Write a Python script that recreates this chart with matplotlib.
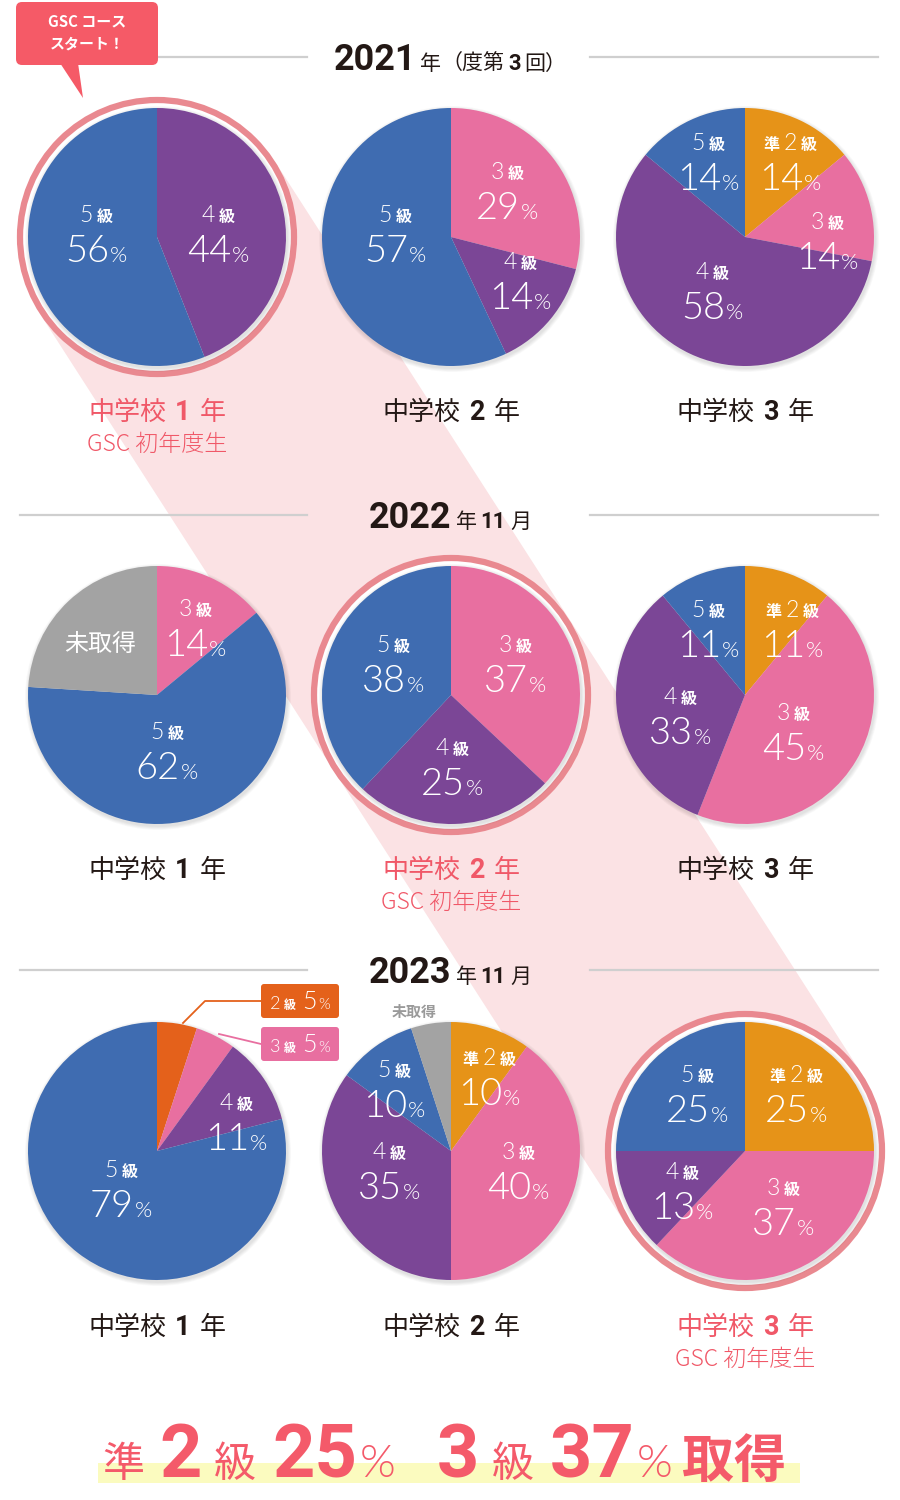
import numpy as np
import matplotlib.pyplot as plt
from matplotlib.patches import Circle, Polygon, FancyBboxPatch

# ---- data ----
years = ['2021', '2022', '2023']
year_sub = [['年', '（度第', '3', '回）'], ['年', '11', '月'], ['年', '11', '月']]
grade_names = [['4', '5'], ['3', '4', '5'], ['準2', '3', '4', '5'],
               ['3', '5', '未取得'], ['3', '4', '5'], ['準2', '3', '4', '5'],
               ['2', '3', '4', '5'], ['準2', '3', '4', '5', '未取得'], ['準2', '3', '4', '5']]
# slices clockwise from 12 o'clock
pie_values = [[44, 56], [29, 14, 57], [14, 14, 58, 14],
              [14, 62, 24], [37, 25, 38], [11, 45, 33, 11],
              [5, 5, 11, 79], [10, 40, 35, 10, 5], [25, 37, 13, 25]]
school_year = ['1', '2', '3']
highlight = [0, 4, 8]

COL = {'2': '#e4611b', '準2': '#e69318', '3': '#e86fa0', '4': '#7b4696',
       '5': '#3f6cb1', '未取得': '#a3a3a3'}
DARK = '#231815'
RED = '#f05868'
LAT = ['Lato', 'Noto Sans CJK JP', 'DejaVu Sans']
JP = ['Noto Sans CJK JP', 'DejaVu Sans']
BOLD = ['Roboto', 'Noto Sans CJK JP', 'DejaVu Sans']
THIN = 300

fig = plt.figure(figsize=(9, 15), dpi=100)
ax = fig.add_axes([0, 0, 1, 1])
ax.set_xlim(0, 900)
ax.set_ylim(1500, 0)
ax.axis('off')
renderer = fig.canvas.get_renderer()

centers_x = [157, 451, 745]
centers_y = [237, 695, 1151]
R = 129


def rich(x, y, segs, color, gap=3, z=10):
    # segs: (text, px, family, weight[, gap before])
    arts, widths, gaps = [], [], []
    for i, sg in enumerate(segs):
        s, px, fam, wt = sg[:4]
        gaps.append(0 if i == 0 else (sg[4] if len(sg) > 4 else gap))
        t = ax.text(0, y, s, fontsize=px * 0.72, family=fam, fontweight=wt,
                    color=color, va='baseline', ha='left', zorder=z)
        widths.append(t.get_window_extent(renderer=renderer).width)
        arts.append(t)
    total = sum(widths) + sum(gaps)
    start = x - total / 2
    for t, w, g in zip(arts, widths, gaps):
        start += g
        t.set_x(start)
        start += w


def label(x, yc, grade, pct, big=38):
    segs = []
    if grade.startswith('準'):
        segs.append(('準', 16, JP, 'bold'))
        grade = grade[1:]
    segs += [(grade, 23, LAT, THIN), ('級', 16, JP, 'bold')]
    rich(x, yc + 7, segs, 'white', gap=4)
    rich(x, yc + 47, [(str(pct), big, LAT, THIN), ('%', 22, LAT, THIN)], 'white', gap=1)


# ---- pink band joining GSC circles ----
c1 = np.array([centers_x[0], centers_y[0]], float)
c3 = np.array([centers_x[2], centers_y[2]], float)
d = (c3 - c1) / np.linalg.norm(c3 - c1)
n = np.array([-d[1], d[0]])
RB = 140
ax.add_patch(Polygon([c1 + RB * n, c3 + RB * n, c3 - RB * n, c1 - RB * n],
                     closed=True, fc='#fbe2e4', ec='none', zorder=0))

# ---- section headers ----
header_y = [57, 515, 970]
for i, yr in enumerate(years):
    y = header_y[i]
    ax.plot([20, 307], [y, y], color='#cfcfcf', lw=1.6, zorder=1)
    ax.plot([590, 878], [y, y], color='#cfcfcf', lw=1.6, zorder=1)
    segs = [(yr, 36, BOLD, 'bold', 8)]
    for s in year_sub[i]:
        if s.isdigit():
            segs.append((s, 22, BOLD, 'bold', 4))
        elif s.startswith('（'):
            segs.append((s, 21, JP, 'normal', 0))
        else:
            segs.append((s, 21, JP, 'normal', 4))
    rich(450, y + 13, segs, DARK)

# ---- pies ----
for k, vals in enumerate(pie_values):
    cx, cy = centers_x[k % 3], centers_y[k // 3]
    if k in highlight:
        ax.add_patch(Circle((cx, cy), 137, fc='white', ec='#e98990', lw=4.5, zorder=2))
    for j in range(1, 6):
        ax.add_patch(Circle((cx + 1, cy + 2), R + j * 0.8, fc='black', alpha=0.025,
                            ec='none', zorder=2))
    wedges, _ = ax.pie(vals, colors=[COL[g] for g in grade_names[k]], radius=R,
                       center=(cx, cy), startangle=270, counterclock=True,
                       wedgeprops=dict(linewidth=0))
    for w in wedges:
        w.set_zorder(3)

ax.set_xlim(0, 900)
ax.set_ylim(1500, 0)
ax.set_aspect('equal')
ax.axis('off')

# ---- labels inside pies ----
pos = [
    [(218, 215), (96, 215)],
    [(507, 172), (520, 262), (395, 215)],
    [(790, 143), (827, 222), (712, 272), (708, 143)],
    [(195, 609), (167, 732), None],
    [(515, 645), (452, 748), (393, 645)],
    [(792, 610), (793, 713), (680, 697), (708, 610)],
    [None, None, (236, 1103), (121, 1170)],
    [(489, 1058), (518, 1152), (389, 1152), (394, 1070), None],
    [(796, 1075), (783, 1188), (682, 1172), (697, 1075)],
]
for k, vals in enumerate(pie_values):
    for g, v, p in zip(grade_names[k], vals, pos[k]):
        if p is None:
            continue
        label(p[0], p[1], g, v)

# 未取得 labels
rich(100, 651, [('未取得', 24, JP, 'normal')], 'white')
rich(414, 1017, [('未取得', 15, JP, 'bold')], '#9a9a9a')

# callouts for small slices (2023, 1st year)
call = [('2', 5, 984, (183, 1023), (205, 1001)), ('3', 5, 1027, (219, 1034), (219, 1044))]
for g, v, by, p0, p1 in call:
    c = COL[g]
    ax.add_patch(FancyBboxPatch((261, by), 78, 34, boxstyle='round,pad=0,rounding_size=3',
                                fc=c, ec='none', zorder=6))
    ym = by + 17
    if g == '2':
        ax.plot([p0[0], p1[0], 261], [p0[1], p1[1], ym], color=c, lw=1.3, zorder=5)
    else:
        ax.plot([p0[0], 261], [p0[1], ym], color=c, lw=1.3, zorder=5)
    rich(300, ym + 8, [(g, 18, LAT, THIN), ('級', 12, JP, 'bold'),
                       (str(v), 25, LAT, THIN, 7), ('%', 15, LAT, THIN, 1)], 'white', gap=3, z=7)

# ---- titles under pies ----
title_y = [410, 868, 1325]
for k in range(9):
    cx, ty = centers_x[k % 3], title_y[k // 3]
    c = RED if k in highlight else DARK
    rich(cx, ty + 10, [('中学校', 26, JP, 'normal'), (school_year[k % 3], 27, BOLD, 'bold'),
                       ('年', 26, JP, 'normal')], c, gap=9)
    if k in highlight:
        rich(cx, ty + 41, [('GSC 初年度生', 23, JP, 'light')], c)

# ---- top-left speech bubble ----
ax.add_patch(FancyBboxPatch((16, 2), 142, 63, boxstyle='round,pad=0,rounding_size=6',
                            fc='#f55a67', ec='none', zorder=6))
ax.add_patch(Polygon([(60, 63), (78, 63), (83, 98)], closed=True, fc='#f55a67',
                     ec='none', zorder=6))
rich(87, 26, [('GSC コース', 15, JP, 'bold')], 'white', z=7)
rich(87, 49, [('スタート！', 15, JP, 'bold')], 'white', z=7)

# ---- bottom summary ----
ax.add_patch(Polygon([(98, 1463), (800, 1463), (800, 1483), (98, 1483)], closed=True,
                     fc='#fbfbbf', ec='none', zorder=1))
rich(444, 1477, [('準', 42, JP, 'normal'), ('2', 74, BOLD, 'bold', 16), ('級', 42, JP, 'normal', 12),
                 ('25', 74, BOLD, 'bold', 16), ('%', 46, LAT, THIN, 2),
                 ('3', 74, BOLD, 'bold', 42), ('級', 42, JP, 'normal', 12), ('37', 74, BOLD, 'bold', 16),
                 ('%', 46, LAT, THIN, 2), ('取得', 52, JP, 'bold', 10)], '#f45a6a')

fig.savefig('out.png', dpi=100)
